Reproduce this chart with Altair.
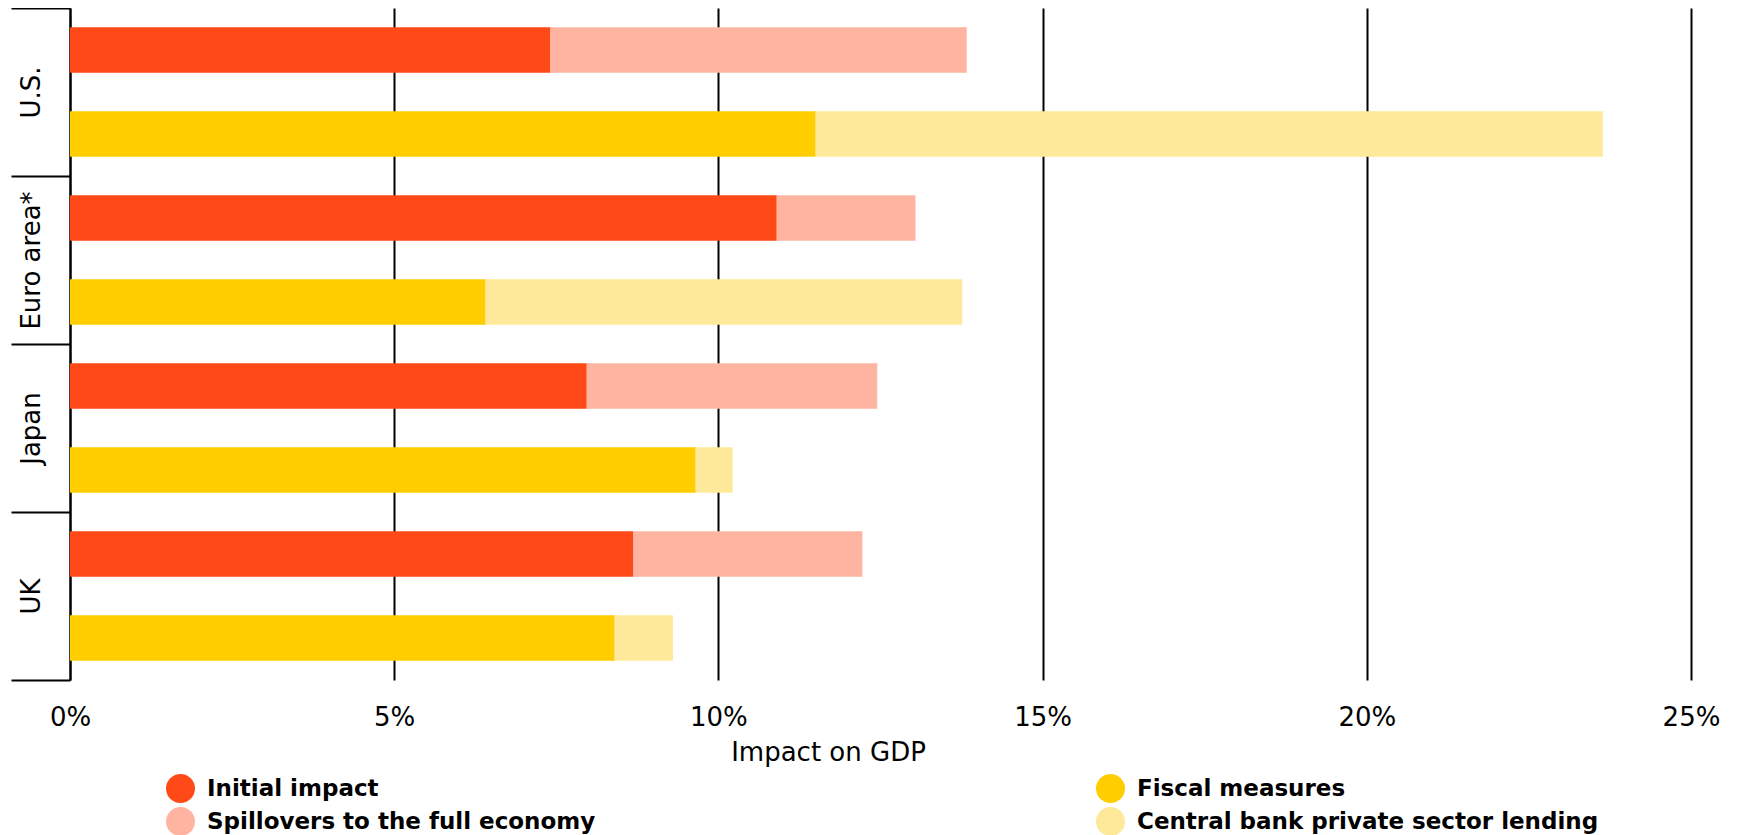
import altair as alt
import pandas as pd

countries = ["U.S.", "Euro area*", "Japan", "UK"]
initial_impact = [7.41, 10.90, 7.97, 8.69]
spillovers = [6.42, 2.14, 4.48, 3.53]
fiscal_measures = [11.50, 6.41, 9.65, 8.40]
cb_lending = [12.14, 7.35, 0.57, 0.90]

impact_labels = ["Initial impact", "Spillovers to the full economy"]
policy_labels = ["Fiscal measures", "Central bank private sector lending"]
impact_colors = ["#FF4A17", "#FFB4A1"]
policy_colors = ["#FFCD00", "#FEE899"]
tick_values = [0, 5, 10, 15, 20, 25]

FONT = "DejaVu Sans"


def build(first, second, labels, kind):
    rows = []
    for c, a, b in zip(countries, first, second):
        rows.append({"country": c, "kind": kind, "segment": labels[0], "start": 0.0, "end": a})
        rows.append({"country": c, "kind": kind, "segment": labels[1], "start": a, "end": a + b})
    return pd.DataFrame(rows)


df_impact = build(initial_impact, spillovers, impact_labels, "impact")
df_policy = build(fiscal_measures, cb_lending, policy_labels, "policy")

y_enc = alt.Y(
    "country:N",
    sort=countries,
    scale=alt.Scale(paddingInner=0, paddingOuter=0),
    axis=alt.Axis(
        title=None,
        labelAngle=270,
        labelAlign="center",
        labelBaseline="middle",
        labelPadding=-20,
        labelFont=FONT,
        labelFontSize=26,
        labelColor="black",
        tickBand="extent",
        tickSize=59,
        tickWidth=2,
        tickColor="black",
        domainColor="black",
        domainWidth=2,
        grid=False,
    ),
)

yoff_enc = alt.YOffset(
    "kind:N",
    scale=alt.Scale(domain=["impact", "policy"], paddingInner=0.46, paddingOuter=0.23),
)

x_enc = alt.X(
    "start:Q",
    scale=alt.Scale(domain=[0, 25], nice=False),
    axis=alt.Axis(
        values=tick_values,
        labelExpr="datum.value + '%'",
        grid=True,
        gridColor="black",
        gridWidth=2,
        domain=False,
        ticks=False,
        labelPadding=24,
        labelFont=FONT,
        labelFontSize=26,
        labelColor="black",
        labelFlush=False,
        title="Impact on GDP",
        titleFont=FONT,
        titleFontSize=26,
        titleFontWeight="normal",
        titleColor="black",
        titleX=758,
        titleY=80,
        titleAlign="center",
        titleBaseline="alphabetic",
    ),
)

legend_common = dict(
    orient="none",
    direction="vertical",
    title=None,
    symbolType="circle",
    symbolSize=841,
    symbolStrokeWidth=0,
    symbolOpacity=1,
    labelFont=FONT,
    labelFontWeight="bold",
    labelFontSize=23,
    labelColor="black",
    labelOffset=12,
    labelLimit=700,
    rowPadding=4,
    padding=0,
    legendY=766,
)

impact_layer = (
    alt.Chart(df_impact)
    .mark_bar()
    .encode(
        y=y_enc,
        yOffset=yoff_enc,
        x=x_enc,
        x2="end:Q",
        color=alt.Color(
            "segment:N",
            scale=alt.Scale(domain=impact_labels, range=impact_colors),
            legend=alt.Legend(legendX=96, **legend_common),
        ),
    )
)

policy_layer = (
    alt.Chart(df_policy)
    .mark_bar()
    .encode(
        y=y_enc,
        yOffset=yoff_enc,
        x=x_enc,
        x2="end:Q",
        fill=alt.Fill(
            "segment:N",
            scale=alt.Scale(domain=policy_labels, range=policy_colors),
            legend=alt.Legend(legendX=1026, **legend_common),
        ),
    )
)

chart = (
    alt.layer(impact_layer, policy_layer)
    .properties(
        width=1621,
        height=672,
        autosize=alt.AutoSizeParams(type="none"),
        padding={"left": 62, "top": 0, "right": 40, "bottom": 160},
        background="white",
    )
    .configure_view(stroke=None)
)

chart.save("out.html", embed_options={"renderer": "svg", "actions": False})
